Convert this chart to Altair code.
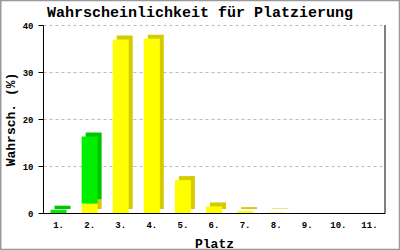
import altair as alt
import pandas as pd

title_text = "Wahrscheinlichkeit für Platzierung"
places = ["1.", "2.", "3.", "4.", "5.", "6.", "7.", "8.", "9.", "10.", "11."]
yellow = [0, 2.0, 36.9, 37.1, 7.0, 1.4, 0.4, 0.1, 0, 0, 0]
green = [0.7, 14.3, 0, 0, 0, 0, 0, 0, 0, 0, 0]
series = ["gelb", "grün"]
front_colors = ["#FFFF00", "#00EE00"]
side_colors = ["#D4CC00", "#00C400"]

rows = []
for i, p in enumerate(places):
    rows.append({"place": p, "series": "gelb", "value": yellow[i], "ord": 0})
    rows.append({"place": p, "series": "grün", "value": green[i], "ord": 1})
df = pd.DataFrame(rows)

FONT = "Liberation Mono"
W, H = 342, 188

x_enc = alt.X(
    "place:N",
    sort=places,
    scale=alt.Scale(paddingInner=0, paddingOuter=0),
    axis=alt.Axis(
        title="Platz", labelAngle=0, ticks=False, domainColor="black",
        labelFont=FONT, labelFontSize=9, labelFontWeight="bold", labelColor="black",
        labelPadding=7, titleFont=FONT, titleFontSize=13, titleFontWeight="bold",
        titleColor="black", titlePadding=8,
    ),
)
y_enc = alt.Y(
    "value:Q",
    stack="zero",
    scale=alt.Scale(domain=[0, 40], nice=False),
    axis=alt.Axis(
        title="Wahrsch. (%)", values=[0, 10, 20, 30, 40], format="d",
        grid=True, gridColor="#bbbbbb", gridDash=[3, 3],
        domainColor="black", tickColor="black", tickSize=5,
        labelFont=FONT, labelFontSize=9, labelFontWeight="bold", labelColor="black",
        labelPadding=5, titleFont=FONT, titleFontSize=13, titleFontWeight="bold",
        titleColor="black", titleX=-33, titleY=H / 2, titleAngle=-90,
        titleAlign="center", titleBaseline="middle",
    ),
)

shadow = alt.Chart(df).mark_bar(size=16, xOffset=4, yOffset=-4).encode(
    x=x_enc,
    y=y_enc,
    color=alt.Color("series:N", scale=alt.Scale(domain=series, range=side_colors), legend=None),
    order=alt.Order("ord:Q"),
)
front = alt.Chart(df).mark_bar(size=16).encode(
    x=x_enc,
    y=y_enc,
    color=alt.Color("series:N", scale=alt.Scale(domain=series, range=front_colors), legend=None),
    order=alt.Order("ord:Q"),
)

one = alt.Data(values=[{}])
right_line = alt.Chart(one).mark_rule(color="black", strokeWidth=1).encode(
    x=alt.value(W), y=alt.value(0), y2=alt.value(H)
)
frame = alt.Chart(one).mark_rect(fillOpacity=0, stroke="#999999", strokeWidth=1.5).encode(
    x=alt.value(-42.25), x2=alt.value(356.5), y=alt.value(-24.5), y2=alt.value(224.5)
)
title = alt.Chart(one).mark_text(
    text=title_text, font=FONT, fontSize=15, fontWeight="bold", color="black",
    align="center", baseline="alphabetic",
).encode(x=alt.value(157), y=alt.value(-8))

chart = (
    alt.layer(shadow, front, right_line, frame, title)
    .resolve_scale(color="independent")
    .properties(
        width=W,
        height=H,
        autosize=alt.AutoSizeParams(type="none"),
        padding={"left": 43, "top": 25, "right": 15, "bottom": 37},
        background="white",
    )
    .configure_view(stroke=None)
)

chart.save("out.html", embed_options={"renderer": "svg", "actions": False})
